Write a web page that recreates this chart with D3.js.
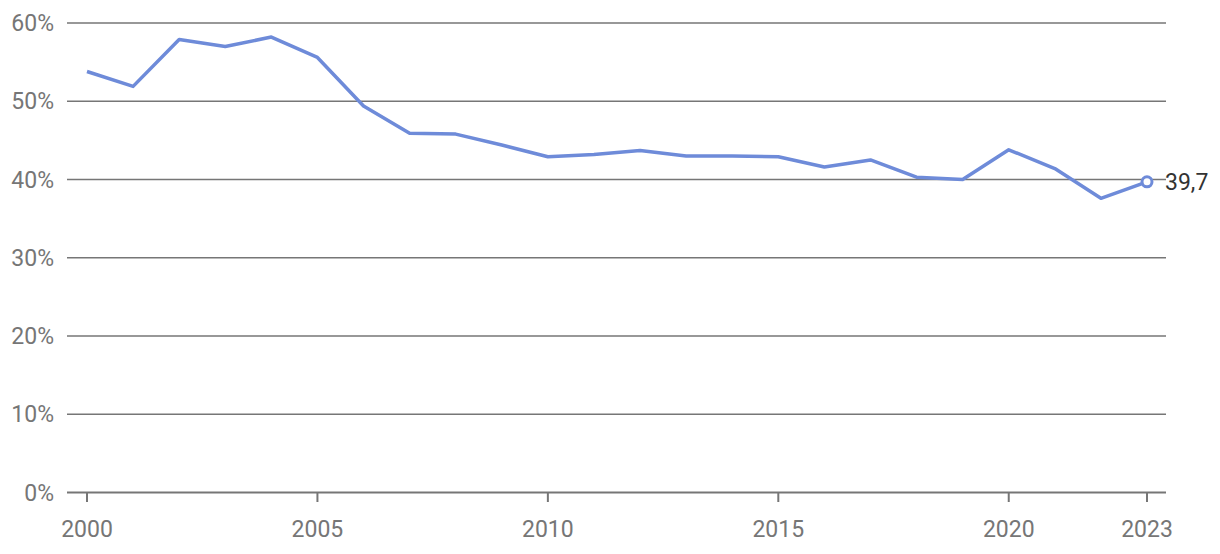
<!DOCTYPE html>
<html><head><meta charset="utf-8">
<script src="https://cdn.jsdelivr.net/npm/d3@7"></script>
<style>body{margin:0;background:#fff}svg{display:block;font-family:Roboto,sans-serif}</style>
</head><body><svg id="c" width="1220" height="554"></svg>
<script>
const years = [2000,2001,2002,2003,2004,2005,2006,2007,2008,2009,2010,2011,2012,2013,2014,2015,2016,2017,2018,2019,2020,2021,2022,2023];
const values = [53.8,51.9,57.9,57.0,58.2,55.6,49.4,45.9,45.8,44.4,42.9,43.2,43.7,43.0,43.0,42.9,41.6,42.5,40.3,40.0,43.8,41.4,37.6,39.7];
const yTicks = [0,10,20,30,40,50,60];
const xTicks = [2000,2005,2010,2015,2020,2023];
const lastLabel = "39,7";

const svg = d3.select("#c");
const x = d3.scaleLinear().domain([2000,2023]).range([87,1147]);
const y = d3.scaleLinear().domain([0,60]).range([492.5,23]);
const gridColor = "#767676", textColor = "#767676", lineColor = "#6e8bd9";
const fs = 23;

svg.append("g").selectAll("line").data(yTicks).join("line")
  .attr("x1",67).attr("x2",1166).attr("y1",d=>y(d)).attr("y2",d=>y(d))
  .attr("stroke",gridColor).attr("stroke-width",d=>d===0?2:1.5);
svg.append("g").selectAll("text").data(yTicks).join("text")
  .attr("x",54).attr("y",d=>y(d)).attr("dy","0.35em").attr("text-anchor","end")
  .attr("font-size",fs).attr("fill",textColor).text(d=>d+"%");

svg.append("g").selectAll("line").data(xTicks).join("line")
  .attr("x1",d=>x(d)).attr("x2",d=>x(d)).attr("y1",492.5).attr("y2",502)
  .attr("stroke",gridColor).attr("stroke-width",2);
svg.append("g").selectAll("text").data(xTicks).join("text")
  .attr("x",d=>x(d)).attr("y",537).attr("text-anchor","middle")
  .attr("font-size",fs).attr("fill",textColor).text(d=>d);

const line = d3.line().x((d,i)=>x(years[i])).y(d=>y(d));
svg.append("path").datum(values).attr("d",line).attr("fill","none")
  .attr("stroke",lineColor).attr("stroke-width",3.5).attr("stroke-linejoin","round");

const n = values.length-1;
svg.append("circle").attr("cx",x(years[n])).attr("cy",y(values[n])).attr("r",5)
  .attr("fill","#fff").attr("stroke",lineColor).attr("stroke-width",3);
svg.append("text").attr("x",x(years[n])+18).attr("y",y(values[n])).attr("dy","0.35em")
  .attr("font-size",fs).attr("fill","#333").text(lastLabel);
</script></body></html>
